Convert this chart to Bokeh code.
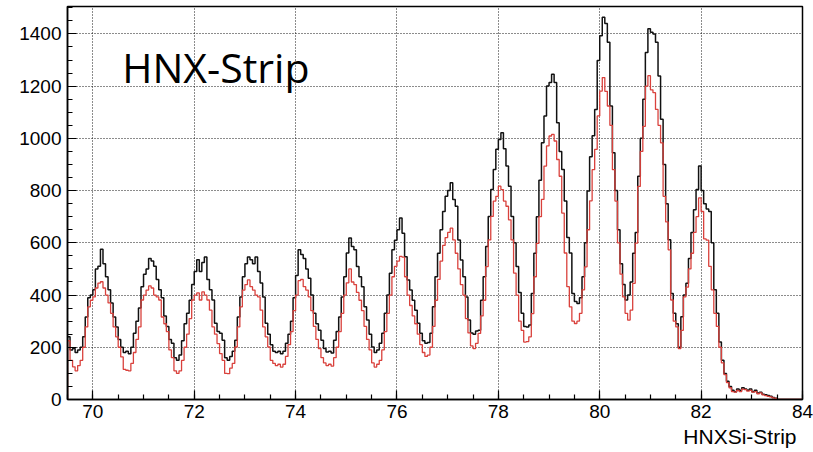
import numpy as np
from bokeh.plotting import figure
from bokeh.models import Range1d, FixedTicker, Label, Title
from bokeh.embed import file_html
from bokeh.resources import INLINE

# ---- histogram definition ----
X_MIN = 69.5
X_MAX = 84.0
BIN_WIDTH = 0.05

# black histogram, bin contents (first bin starts at 69.5)
BLACK = [
    240, 190, 195, 180, 190, 200, 240, 316, 390, 400,
    420, 500, 510, 575, 520, 470, 420, 370, 316, 278, 230, 200, 180, 185, 175, 200, 254, 300, 350, 432,
    480, 500, 540, 530, 510, 460, 420, 390, 320, 280, 230, 215, 160, 150, 170, 225, 290, 330, 380, 440,
    490, 535, 490, 525, 546, 460, 420, 381, 292, 260, 254, 227, 160, 150, 165, 185, 227, 316, 393, 470,
    520, 546, 535, 520, 546, 490, 446, 393, 292, 250, 210, 185, 180, 185, 175, 185, 215, 250, 300, 390,
    475, 573, 555, 540, 500, 464, 400, 330, 290, 265, 227, 195, 182, 185, 178, 227, 260, 316, 393, 470,
    561, 618, 586, 573, 509, 470, 432, 355, 304, 250, 201, 180, 190, 215, 254, 330, 400, 483, 573, 610,
    650, 695, 637, 547, 458, 419, 380, 342, 292, 254, 225, 215, 218, 254, 355, 470, 560, 650, 720, 778,
    800, 830, 766, 740, 611, 534, 470, 393, 304, 255, 250, 262, 265, 380, 470, 586, 701, 804, 881, 958,
    996, 1022, 960, 894, 817, 701, 600, 509, 410, 330, 280, 278, 285, 406, 560, 700, 840, 983, 1086, 1201,
    1214, 1246, 1214, 1060, 950, 881, 760, 620, 561, 406, 375, 368, 390, 470, 600, 798, 930, 1010, 1111, 1298,
    1393, 1464, 1440, 1368, 1124, 945, 800, 650, 520, 440, 381, 400, 450, 560, 640, 855, 1000, 1150, 1329, 1420,
    1406, 1400, 1368, 1239, 1073, 900, 750, 612, 406, 330, 290, 200, 317, 400, 445, 540, 640, 727, 804, 894,
    800, 750, 730, 720, 600, 420, 330, 220, 150, 100, 70, 50, 35, 30, 40, 35, 45, 40, 35, 40,
    30, 35, 25, 28, 20, 18, 15, 12, 8, 5, 0, 0, 0, 0, 0, 0, 0, 0, 0, 0,
]

# red histogram, bin contents
RED = [
    225, 150, 125, 110, 130, 150, 200, 278, 355, 380,
    393, 427, 446, 451, 427, 400, 370, 330, 278, 240, 200, 163, 115, 112, 110, 138, 180, 230, 278, 381,
    400, 419, 435, 427, 400, 393, 381, 316, 290, 260, 190, 160, 110, 100, 110, 150, 200, 250, 310, 381,
    400, 408, 381, 412, 400, 381, 342, 278, 250, 214, 176, 150, 100, 99, 120, 138, 201, 278, 355, 419,
    440, 458, 432, 419, 400, 393, 342, 278, 240, 201, 150, 138, 130, 135, 124, 135, 165, 210, 260, 340,
    400, 455, 460, 432, 419, 393, 340, 280, 230, 195, 160, 140, 130, 135, 128, 160, 200, 260, 330, 400,
    447, 500, 450, 440, 410, 380, 340, 280, 230, 190, 140, 124, 135, 150, 190, 260, 330, 400, 470, 510,
    530, 548, 545, 470, 400, 360, 320, 290, 250, 210, 180, 165, 170, 200, 280, 380, 460, 530, 590, 620,
    640, 656, 611, 560, 500, 440, 400, 310, 255, 205, 195, 215, 253, 320, 380, 509, 611, 701, 760, 778,
    817, 804, 760, 740, 688, 611, 484, 400, 300, 265, 220, 222, 240, 329, 470, 598, 700, 766, 894, 971,
    1009, 1015, 990, 919, 855, 714, 561, 432, 355, 300, 291, 300, 330, 420, 508, 650, 761, 880, 958, 1086,
    1181, 1233, 1180, 1124, 1050, 880, 760, 600, 480, 393, 330, 304, 342, 445, 599, 816, 950, 1046, 1200, 1240,
    1186, 1175, 1111, 1050, 983, 778, 680, 573, 381, 300, 278, 195, 265, 393, 430, 500, 560, 640, 700, 772,
    720, 615, 610, 510, 420, 330, 280, 200, 140, 95, 65, 45, 30, 28, 35, 30, 40, 38, 32, 35,
    28, 30, 22, 25, 18, 15, 12, 10, 6, 4, 0, 0, 0, 0, 0, 0, 0, 0, 0, 0,
]

X_TICKS = [70, 72, 74, 76, 78, 80, 82, 84]
Y_TICKS = [0, 200, 400, 600, 800, 1000, 1200, 1400]
TITLE_TEXT = "HNX-Strip"
X_LABEL = "HNXSi-Strip"

Y_MAX = 1505


def step_xy(values):
    n = len(values)
    edges = X_MIN + BIN_WIDTH * np.arange(n + 1)
    xs = np.concatenate([[edges[0]], edges])
    ys = np.concatenate([[0.0], np.asarray(values, dtype=float), [values[-1]]])
    return xs, ys


p = figure(width=813, height=452, output_backend="svg", toolbar_location=None,
           x_range=Range1d(X_MIN, X_MAX), y_range=Range1d(0, Y_MAX),
           min_border_left=67, min_border_right=11, min_border_top=6, min_border_bottom=53)
p.background_fill_color = "white"
p.border_fill_color = "white"
p.outline_line_color = "black"
p.outline_line_width = 1.5

# grid (dotted, at major ticks)
p.xgrid.ticker = FixedTicker(ticks=X_TICKS[:-1])
p.ygrid.ticker = FixedTicker(ticks=Y_TICKS[1:])
for g in (p.xgrid, p.ygrid):
    g.grid_line_color = "black"
    g.grid_line_dash = "1 2"
    g.grid_line_width = 1
    g.grid_line_alpha = 0.9

# axes
x_minor = [X_MIN + 0.5 * k for k in range(int((X_MAX - X_MIN) / 0.5) + 1)]
p.xaxis.ticker = FixedTicker(ticks=X_TICKS, minor_ticks=x_minor)
y_minor = list(range(0, Y_MAX + 1, 50))
p.yaxis.ticker = FixedTicker(ticks=Y_TICKS, minor_ticks=y_minor)
for ax in (p.xaxis, p.yaxis):
    ax.axis_line_color = "black"
    ax.axis_line_width = 1.5
    ax.major_tick_in = 9
    ax.major_tick_out = 0
    ax.minor_tick_in = 5
    ax.minor_tick_out = 0
    ax.major_tick_line_color = "black"
    ax.minor_tick_line_color = "black"
    ax.major_tick_line_width = 1.2
    ax.minor_tick_line_width = 1.2
    ax.major_label_text_font = "Liberation Sans"
    ax.major_label_text_font_size = "19px"
    ax.major_label_text_color = "black"
p.xaxis.major_label_standoff = 5
p.yaxis.major_label_standoff = 6

# histograms
bx, by = step_xy(BLACK)
p.step(bx, by, mode="after", line_color="#111111", line_width=1.5)
rx, ry = step_xy(RED)
p.step(rx, ry, mode="after", line_color="#d9413c", line_width=1.3)

# texts
p.add_layout(Label(x=70.58, y=1275, text=TITLE_TEXT, text_font="Open Sans",
                   text_font_size="41px", text_color="black", text_baseline="alphabetic"))
p.add_layout(Title(text=X_LABEL, align="right", text_font="Liberation Sans",
                   text_font_size="21px", text_font_style="normal", text_color="black",
                   standoff=4, offset=6), "below")

open("out.html", "w").write(file_html(p, INLINE))
